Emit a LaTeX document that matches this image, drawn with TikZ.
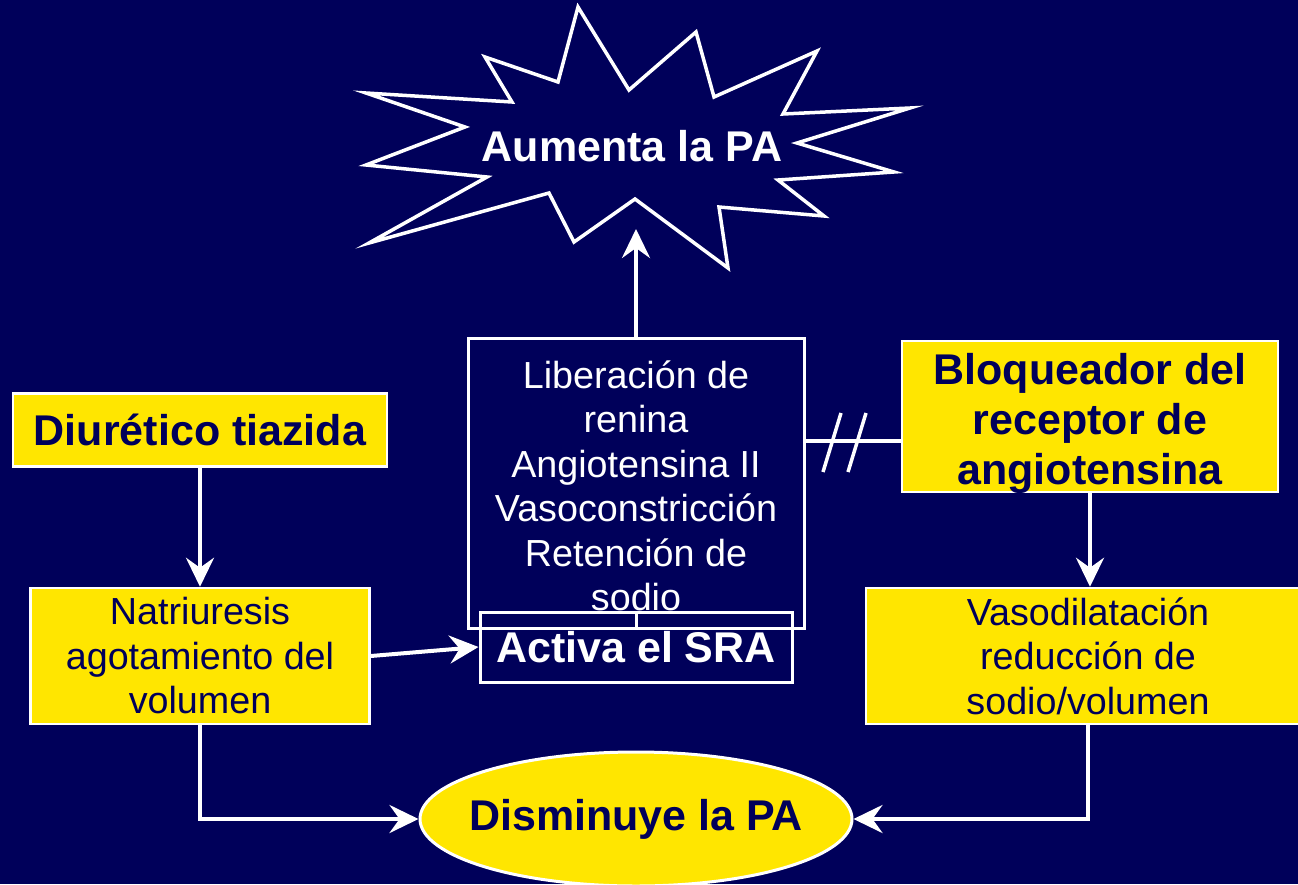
\documentclass[tikz,border=0pt]{standalone}
\usepackage{fontspec}
\setmainfont{Liberation Sans}
\usetikzlibrary{arrows.meta,calc,shapes.geometric}
\definecolor{navy}{RGB}{0,0,90}
\definecolor{yel}{RGB}{255,230,0}
\begin{document}
\begin{tikzpicture}[x=1pt,y=-1pt,
  ybox/.style={draw=white,line width=2.5pt,fill=yel,text=navy,align=center,inner sep=0pt},
  wbox/.style={draw=white,line width=3pt,text=white,align=center,inner sep=0pt},
  bold/.style={font=\fontsize{43}{50}\selectfont\bfseries},
  reg/.style={font=\fontsize{37.7}{44.5}\selectfont},
  conn/.style={draw=white,line width=4pt},
  arr/.style={conn,-{Stealth[length=29pt,width=28pt,inset=10pt]}}]
\fill[navy] (0,0) rectangle (1298,884);
\useasboundingbox (0,0) rectangle (1298,884);

% starburst
\draw[white,line width=3.5pt,line join=miter,fill=navy]
 (578,7) -- (629,90) -- (696,32) -- (714,97) -- (817,51) -- (783,114) -- (910,108)
 -- (797,143) -- (894,172) -- (778,180) -- (824,216) -- (719,207) -- (728,268)
 -- (635,199) -- (574,242) -- (549,193) -- (369,243) -- (487,177) -- (366,165)
 -- (465,127) -- (366,93) -- (512,102) -- (485,57) -- (558,82) -- cycle;
\node[bold,text=white] (aum) at (632,146) {Aumenta la PA};
\coordinate (burst) at (636,229);

% central box
\node[wbox,minimum width=336pt,minimum height=290pt] (ren) at (636,483) {};
\node[reg,text=white,align=center] (rentext) at (636,486)
 {Liberación de\\renina\\Angiotensina II\\Vasoconstricción\\Retención de\\sodio};
\node[wbox,bold,minimum width=312pt,minimum height=70pt] (act) at (636,647) {Activa el SRA};
\draw[white,line width=3pt] (act.north) -- (ren.south);
\draw[arr] (ren.north) -- (burst);

% left side
\node[ybox,bold,minimum width=374pt,minimum height=73pt] (diu) at (200,430) {Diurético tiazida};
\node[ybox,reg,minimum width=339pt,minimum height=136pt] (nat) at (200,656)
 {Natriuresis\\agotamiento del\\volumen};
\draw[arr] (diu.south) -- (nat.north);
\draw[arr] (nat.east) -- (act.west);

% right side
\node[ybox,minimum width=376pt,minimum height=151pt] (blo) at (1090,416.5) {};
\node[bold,text=navy,align=center] (blotext) at (1090,423)
 {Bloqueador del\\receptor de\\angiotensina};
\node[ybox,reg,minimum width=444pt,minimum height=136pt] (vas) at (1088,656)
 {Vasodilatación\\reducción de\\sodio/volumen};
\draw[arr] (blo.south) -- (vas.north -| blo.south);
\coordinate (ybar) at (0,441);
\draw[conn] (ren.east |- ybar) -- (blo.west |- ybar);
\draw[white,line width=3.5pt] (823,472) -- (841,413);
\draw[white,line width=3.5pt] (848,472) -- (866,413);

% bottom
\node[draw=white,line width=3pt,fill=yel,ellipse,minimum width=432pt,minimum height=134pt,
  inner xsep=-80pt,inner ysep=0pt,bold,text=navy] (dis) at (636,819) {Disminuye la PA};
\draw[arr] (nat.south) |- (dis.west);
\draw[arr] (vas.south) |- (dis.east);
\end{tikzpicture}
\end{document}
